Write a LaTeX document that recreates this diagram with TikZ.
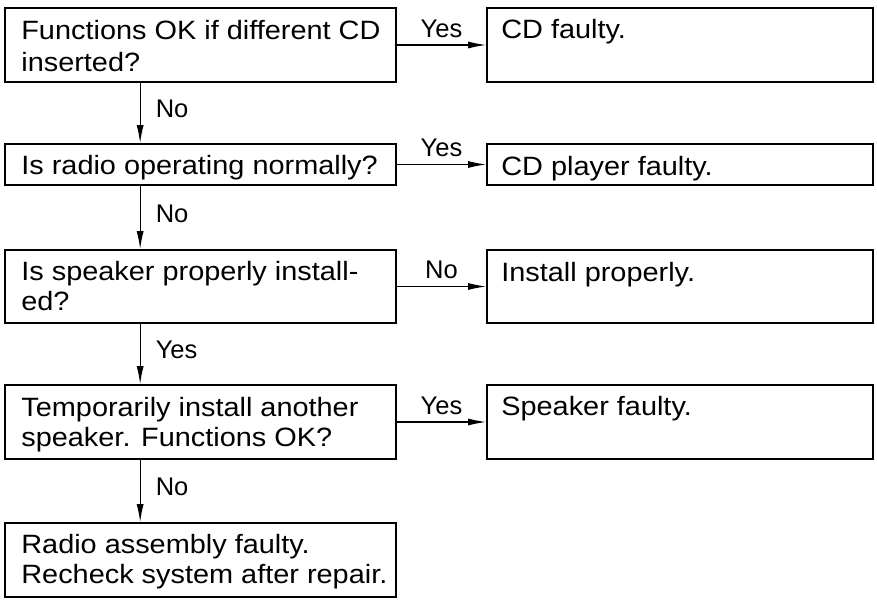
\documentclass[tikz,border=0pt]{standalone}
\usepackage{fontspec}
\setmainfont{Liberation Sans}[FakeStretch=1.09]
\newfontfamily\lblfont{Liberation Sans}
\usetikzlibrary{arrows.meta}
\begin{document}
\begin{tikzpicture}[x=1pt,y=-1pt,
  box/.style={draw=black, line width=1.7pt, rectangle, inner sep=0pt},
  lbox/.style={box, minimum width=391pt},
  rbox/.style={box, minimum width=386pt},
  txt/.style={anchor=base west, inner sep=0pt, font=\fontsize{26.5}{30}\selectfont},
  lbl/.style={inner sep=2pt, font=\lblfont\fontsize{25.5}{29}\selectfont},
  arr/.style={line width=1.2pt, -{Latex[length=18pt,width=7pt]}}]
\useasboundingbox (0,0) rectangle (877,601);
% left column
\node[lbox, minimum height=74pt] (q1) at (200.5,45) {};
\node[lbox, minimum height=41pt] (q2) at (200.5,164.5) {};
\node[lbox, minimum height=73pt] (q3) at (200.5,286.5) {};
\node[lbox, minimum height=74pt] (q4) at (200.5,422) {};
\node[lbox, minimum height=74pt] (q5) at (200.5,560) {};
% right column
\node[rbox, minimum height=74pt] (a1) at (680,45) {};
\node[rbox, minimum height=41pt] (a2) at (680,164.5) {};
\node[rbox, minimum height=73pt] (a3) at (680,286.5) {};
\node[rbox, minimum height=74pt] (a4) at (680,422) {};
% texts
\node[txt] (q1t) at ([xshift=17pt,yshift=-32pt]q1.north west) {\begin{tabular}[t]{@{}l@{}}Functions OK if different CD\\[2pt]inserted?\end{tabular}};
\node[txt] (q2t) at ([xshift=17pt,yshift=-31pt]q2.north west) {Is radio operating normally?};
\node[txt] (q3t) at ([xshift=17pt,yshift=-31pt]q3.north west) {\begin{tabular}[t]{@{}l@{}}Is speaker properly install-\\ed?\end{tabular}};
\node[txt] (q4t) at ([xshift=17pt,yshift=-32pt]q4.north west) {\begin{tabular}[t]{@{}l@{}}Temporarily install another\\speaker. Functions OK?\end{tabular}};
\node[txt] (q5t) at ([xshift=17pt,yshift=-31pt]q5.north west) {\begin{tabular}[t]{@{}l@{}}Radio assembly faulty.\\Recheck system after repair.\end{tabular}};
\node[txt] (a1t) at ([xshift=15pt,yshift=-31pt]a1.north west) {CD faulty.};
\node[txt] (a2t) at ([xshift=15pt,yshift=-32pt]a2.north west) {CD player faulty.};
\node[txt] (a3t) at ([xshift=15pt,yshift=-32pt]a3.north west) {Install properly.};
\node[txt] (a4t) at ([xshift=15pt,yshift=-31pt]a4.north west) {Speaker faulty.};
% horizontal connectors
\draw[arr] (q1.east) -- node[lbl, above=5pt] (y1) {Yes} (a1.west);
\draw[arr] (q2.east) -- node[lbl, above=5pt] (y2) {Yes} (a2.west);
\draw[arr] (q3.east) -- node[lbl, above=5pt] (n3) {No} (a3.west);
\draw[arr] (q4.east) -- node[lbl, above=5pt] (y4) {Yes} (a4.west);
% vertical connectors
\draw[arr] ([xshift=136pt]q1.south west) -- node[lbl, right=13pt, yshift=4pt] (n1) {No} ([xshift=136pt]q2.north west);
\draw[arr] ([xshift=136pt]q2.south west) -- node[lbl, right=13pt, yshift=4pt] (n2) {No} ([xshift=136pt]q3.north west);
\draw[arr] ([xshift=136pt]q3.south west) -- node[lbl, right=13pt, yshift=4pt] (y3) {Yes} ([xshift=136pt]q4.north west);
\draw[arr] ([xshift=136pt]q4.south west) -- node[lbl, right=13pt, yshift=4pt] (n4) {No} ([xshift=136pt]q5.north west);
\end{tikzpicture}
\end{document}
